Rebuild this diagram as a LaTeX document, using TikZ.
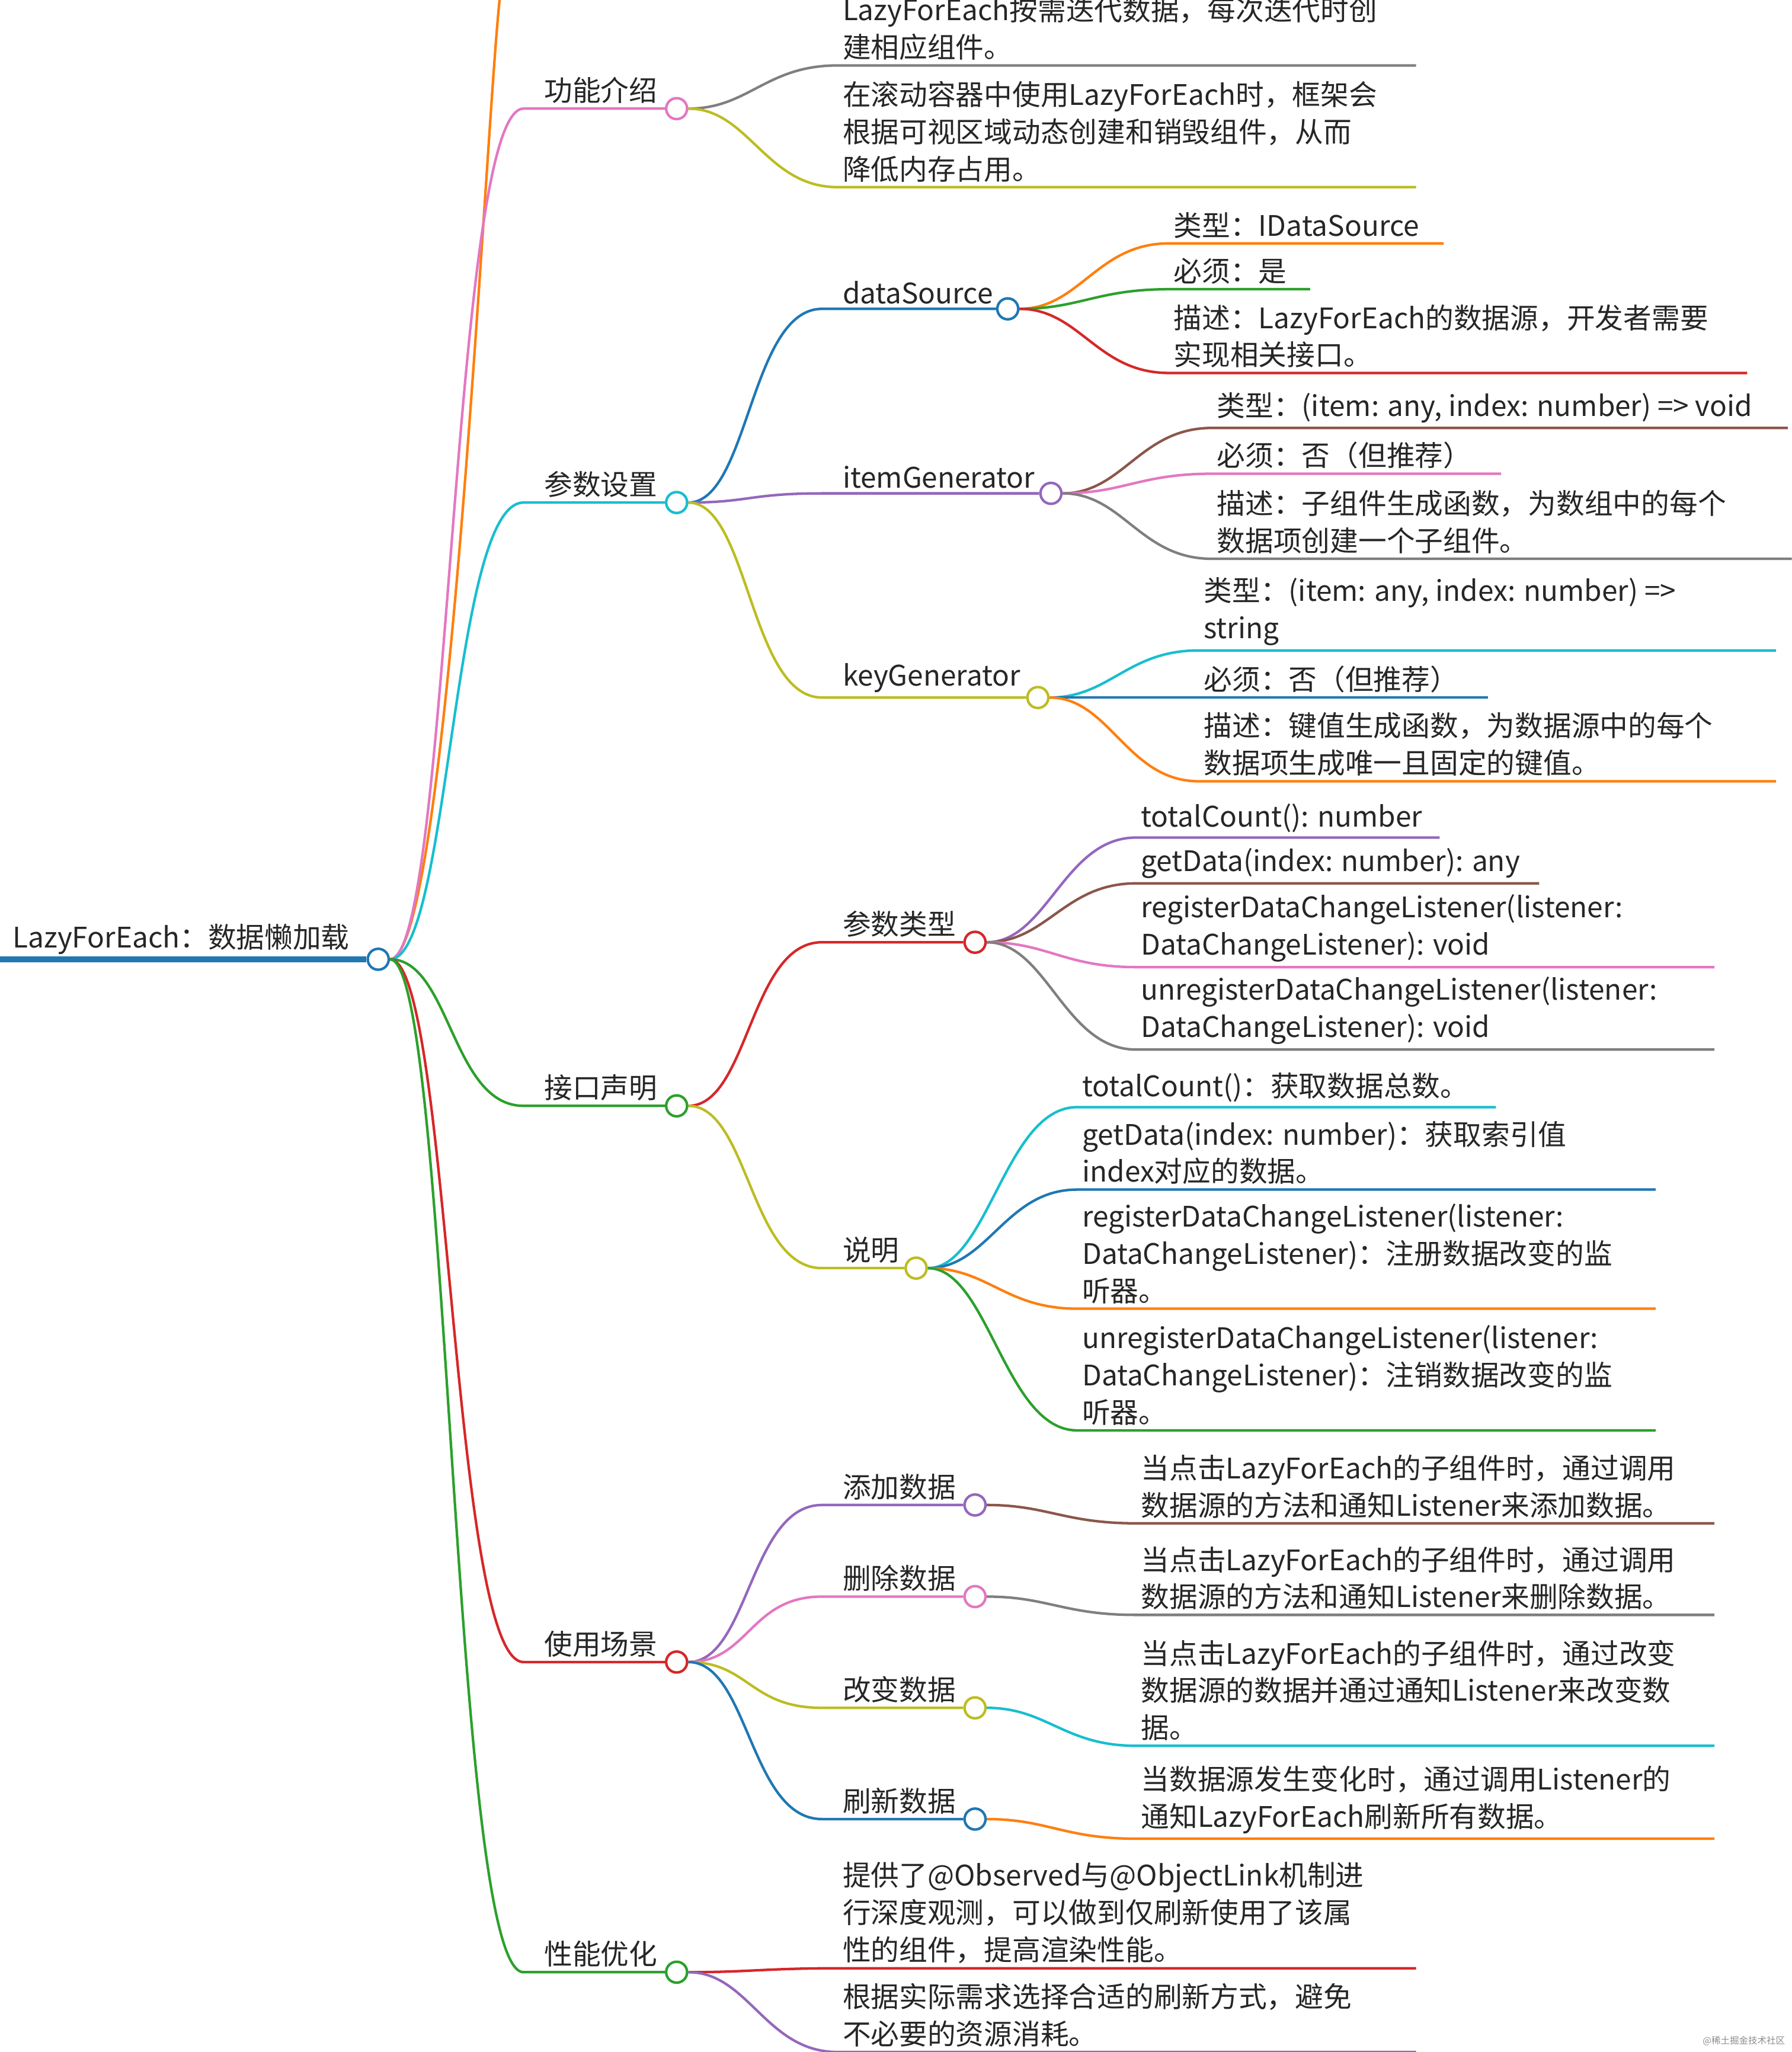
\documentclass[tikz,border=0pt]{standalone}
\usepackage{fontspec}
\setmainfont{Noto Sans CJK SC}[Scale=1]
\usetikzlibrary{backgrounds}
\definecolor{cblue}{HTML}{1F77B4}
\definecolor{corange}{HTML}{FF7F0E}
\definecolor{cgreen}{HTML}{2CA02C}
\definecolor{cred}{HTML}{D62728}
\definecolor{cpurple}{HTML}{9467BD}
\definecolor{cbrown}{HTML}{8C564B}
\definecolor{cpink}{HTML}{E377C2}
\definecolor{cgray}{HTML}{7F7F7F}
\definecolor{colive}{HTML}{BCBD22}
\definecolor{ccyan}{HTML}{17BECF}
\tikzset{
  dot/.style={circle,draw=#1,fill=white,line width=1.1pt,minimum size=0.32cm,inner sep=0pt},
  edge/.style={draw=#1,line width=1.1pt},
  lbl/.style={anchor=south west,inner sep=2pt,align=left,text=black!85,
    font=\fontsize{12.3}{16.2}\selectfont}
}
% branch: from, to, x, y of underline start, colour, label
\newcommand{\branch}[6]{%
  \begin{pgfonlayer}{background}
  \draw[edge=#5] (#1) .. controls +(55,0) and +(-55,0) .. (#3,#4) -- (#2);
  \end{pgfonlayer}
  \node[lbl] (l#2) at (#3+12,#4) {#6};}
% leaf: parent, name, x start, y, x end, colour, text
\newcommand{\leaf}[7]{%
  \begin{pgfonlayer}{background}
  \draw[edge=#6] (#1) .. controls +(55,0) and +(-55,0) .. (#3,#4) -- (#5,#4);
  \end{pgfonlayer}
  \node[lbl] (#2) at (#3,#4) {#7};}
\begin{document}
\begin{tikzpicture}[x=0.02cm,y=-0.02cm]
\useasboundingbox (0,0) rectangle (1369,1568);
\clip (0,0) rectangle (1369,1568);
% root
\node[dot=cblue] (root) at (289,733) {};
\begin{pgfonlayer}{background}
\draw[draw=cblue,line width=2.6pt] (0,733) -- (root);
\draw[edge=corange] (root) .. controls +(55,0) and +(-10,60) .. (383,-10);
\end{pgfonlayer}
\node[lbl] (lroot) at (6,733) {LazyForEach：数据懒加载};
% level one
\node[dot=cpink] (func) at (517,83) {};
\node[dot=ccyan] (param) at (517,384) {};
\node[dot=cgreen] (iface) at (517,845) {};
\node[dot=cred] (usage) at (517,1270) {};
\node[dot=cgreen] (perf) at (517,1507) {};
\branch{root}{func}{400}{83}{cpink}{功能介绍}
\branch{root}{param}{400}{384}{ccyan}{参数设置}
\branch{root}{iface}{400}{845}{cgreen}{接口声明}
\branch{root}{usage}{400}{1270}{cred}{使用场景}
\branch{root}{perf}{400}{1507}{cgreen}{性能优化}
% 功能介绍
\leaf{func}{f1}{640}{50}{1082}{cgray}{LazyForEach按需迭代数据，每次迭代时创\\建相应组件。}
\leaf{func}{f2}{640}{143}{1082}{colive}{在滚动容器中使用LazyForEach时，框架会\\根据可视区域动态创建和销毁组件，从而\\降低内存占用。}
% 参数设置
\node[dot=cblue] (ds) at (770,236) {};
\node[dot=cpurple] (ig) at (803,377) {};
\node[dot=colive] (kg) at (793,533) {};
\branch{param}{ds}{628}{236}{cblue}{dataSource}
\branch{param}{ig}{628}{377}{cpurple}{itemGenerator}
\branch{param}{kg}{628}{533}{colive}{keyGenerator}
\leaf{ds}{ds1}{893}{186}{1103}{corange}{类型：IDataSource}
\leaf{ds}{ds2}{893}{221}{1001}{cgreen}{必须：是}
\leaf{ds}{ds3}{893}{285}{1335}{cred}{描述：LazyForEach的数据源，开发者需要\\实现相关接口。}
\leaf{ig}{ig1}{926}{327}{1366}{cbrown}{类型：(item: any, index: number) => void}
\leaf{ig}{ig2}{926}{362}{1147}{cpink}{必须：否（但推荐）}
\leaf{ig}{ig3}{926}{427}{1369}{cgray}{描述：子组件生成函数，为数组中的每个\\数据项创建一个子组件。}
\leaf{kg}{kg1}{916}{497}{1357}{ccyan}{类型：(item: any, index: number) =>\\string}
\leaf{kg}{kg2}{916}{533}{1137}{cblue}{必须：否（但推荐）}
\leaf{kg}{kg3}{916}{597}{1357}{corange}{描述：键值生成函数，为数据源中的每个\\数据项生成唯一且固定的键值。}
% 接口声明
\node[dot=cred] (ptype) at (745,720) {};
\node[dot=colive] (desc) at (700,969) {};
\branch{iface}{ptype}{628}{720}{cred}{参数类型}
\branch{iface}{desc}{628}{969}{colive}{说明}
\leaf{ptype}{pt1}{868}{640}{1100}{cpurple}{totalCount(): number}
\leaf{ptype}{pt2}{868}{675}{1176}{cbrown}{getData(index: number): any}
\leaf{ptype}{pt3}{868}{739}{1310}{cpink}{registerDataChangeListener(listener:\\DataChangeListener): void}
\leaf{ptype}{pt4}{868}{802}{1310}{cgray}{unregisterDataChangeListener(listener:\\DataChangeListener): void}
\leaf{desc}{de1}{823}{846}{1143}{ccyan}{totalCount()：获取数据总数。}
\leaf{desc}{de2}{823}{909}{1265}{cblue}{getData(index: number)：获取索引值\\index对应的数据。}
\leaf{desc}{de3}{823}{1000}{1265}{corange}{registerDataChangeListener(listener:\\DataChangeListener)：注册数据改变的监\\听器。}
\leaf{desc}{de4}{823}{1093}{1265}{cgreen}{unregisterDataChangeListener(listener:\\DataChangeListener)：注销数据改变的监\\听器。}
% 使用场景
\node[dot=cpurple] (add) at (745,1150) {};
\node[dot=cpink] (del) at (745,1220) {};
\node[dot=colive] (chg) at (745,1305) {};
\node[dot=cblue] (rfr) at (745,1390) {};
\branch{usage}{add}{628}{1150}{cpurple}{添加数据}
\branch{usage}{del}{628}{1220}{cpink}{删除数据}
\branch{usage}{chg}{628}{1305}{colive}{改变数据}
\branch{usage}{rfr}{628}{1390}{cblue}{刷新数据}
\leaf{add}{ad1}{868}{1164}{1310}{cbrown}{当点击LazyForEach的子组件时，通过调用\\数据源的方法和通知Listener来添加数据。}
\leaf{del}{dl1}{868}{1234}{1310}{cgray}{当点击LazyForEach的子组件时，通过调用\\数据源的方法和通知Listener来删除数据。}
\leaf{chg}{ch1}{868}{1334}{1310}{ccyan}{当点击LazyForEach的子组件时，通过改变\\数据源的数据并通过通知Listener来改变数\\据。}
\leaf{rfr}{rf1}{868}{1405}{1310}{corange}{当数据源发生变化时，通过调用Listener的\\通知LazyForEach刷新所有数据。}
% 性能优化
\leaf{perf}{pf1}{640}{1504}{1082}{cred}{提供了@Observed与@ObjectLink机制进\\行深度观测，可以做到仅刷新使用了该属\\性的组件，提高渲染性能。}
\leaf{perf}{pf2}{640}{1568}{1082}{cpurple}{根据实际需求选择合适的刷新方式，避免\\不必要的资源消耗。}
\node[anchor=south east,inner sep=1pt,text=black!45,font=\fontsize{4}{5}\selectfont] (wm) at (1366,1565) {@稀土掘金技术社区};
\end{tikzpicture}
\end{document}
